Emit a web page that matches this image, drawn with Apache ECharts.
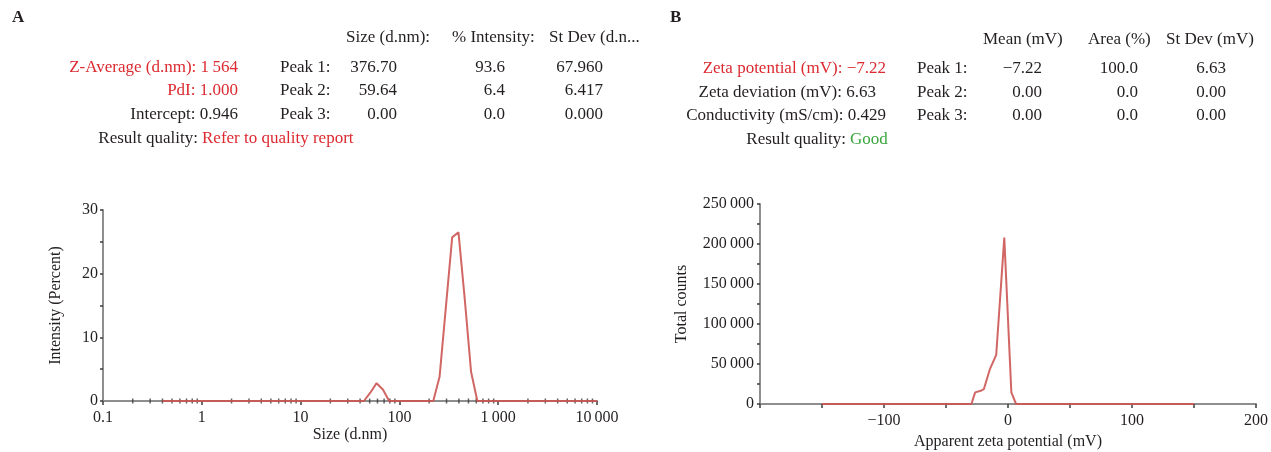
<!DOCTYPE html>
<html>
<head>
<meta charset="utf-8">
<script src="https://cdn.jsdelivr.net/npm/echarts@6/dist/echarts.min.js"></script>
<style>
html,body{margin:0;padding:0;background:#fff;}
#chart{width:1271px;height:452px;}
</style>
</head>
<body>
<div id="chart"></div>
<script>
// ---------- Panel A: size distribution by intensity ----------
const sizeBins = [0.4,0.4632,0.5365,0.6213,0.7195,0.8332,0.9649,1.117,1.294,1.499,1.736,2.010,2.328,2.696,3.122,3.615,4.187,4.849,5.615,6.503,7.531,8.721,10.10,11.70,13.54,15.69,18.17,21.04,24.36,28.21,32.67,37.84,43.82,50.75,58.77,68.06,78.82,91.28,105.7,122.4,141.8,164.2,190.1,220.2,255.0,295.3,342.0,396.1,458.7,531.2,615.1,712.4,825.0,955.4,1106,1281,1484,1718,1990,2305,2669,3091,3580,4145,4801,5560,6439,7456,8635,10000];
const intensity = [0,0,0,0,0,0,0,0,0,0,0,0,0,0,0,0,0,0,0,0,0,0,0,0,0,0,0,0,0,0,0,0,0,1.3,2.8,1.8,0,0,0,0,0,0,0,0,3.8,14.7,25.7,26.5,16.0,4.6,0,0,0,0,0,0,0,0,0,0,0,0,0,0,0,0,0,0,0,0];
const sizeTickLabels = ['0.1','1','10','100','1\u2009000','10\u2009000'];
const intensityTicks = [0,10,20,30];

// ---------- Panel B: zeta potential distribution ----------
const zetaMv = [-150,-29.5,-26.5,-22,-19.5,-14.5,-9.5,-3,2.7,6.5,150];
const zetaCounts = [0,0,14500,16500,18500,44000,61500,208000,14500,0,0];
const zetaTickLabels = {'-100':'\u2212100','0':'0','100':'100','200':'200'};
const countTickLabels = ['0','50\u2009000','100\u2009000','150\u2009000','200\u2009000','250\u2009000'];

// ---------- Header tables ----------
const headA = ['Size (d.nm):','% Intensity:','St Dev (d.n...'];
const leftA = [['Z-Average (d.nm): 1\u2009564', true],['PdI: 1.000', true],['Intercept: 0.946', false]];
const peakNames = ['Peak 1:','Peak 2:','Peak 3:'];
const peakSizeA = ['376.70','59.64','0.00'];
const peakIntA = ['93.6','6.4','0.0'];
const peakSdA = ['67.960','6.417','0.000'];
const qualityA = 'Refer to quality report';

const headB = ['Mean (mV)','Area (%)','St Dev (mV)'];
const leftB = [['Zeta potential (mV): \u22127.22', true],['Zeta deviation (mV): 6.63', false],['Conductivity (mS/cm): 0.429', false]];
const peakMeanB = ['\u22127.22','0.00','0.00'];
const peakAreaB = ['100.0','0.0','0.0'];
const peakSdB = ['6.63','0.00','0.00'];
const qualityB = 'Good';

// minor ticks of the log axis (2..9 x each decade)
const logMinor = [];
for (let e = -1; e < 4; e++) for (let m = 2; m <= 9; m++) logMinor.push([m * Math.pow(10, e), 0]);

const FONT = 'Liberation Serif';
const INK = '#231f20';
const RED = '#dc2a30';
const GREEN = '#3aa63f';
const AXIS = '#8e8e8e';
const TICK = '#3c3c3c';
const LINE = '#cc5753';

function txt(text, x, y, opt) {
  opt = opt || {};
  return {type:'text', silent:true, style:{text:text, x:x, y:y,
    font:(opt.bold?'bold ':'') + (opt.size||17) + 'px "' + FONT + '"',
    fill:opt.color||INK, align:opt.align||'left', verticalAlign:'middle'}};
}

const rowsY = [68, 91, 115];
const g = [];
g.push(txt('A', 12, 18, {bold:true, size:17}));
g.push(txt('B', 670, 18, {bold:true, size:17}));
// A header
[346, 452, 549].forEach((x,i)=>g.push(txt(headA[i], x, 38)));
leftA.forEach((r,i)=>g.push(txt(r[0], 238, rowsY[i], {align:'right', color:r[1]?RED:INK})));
peakNames.forEach((p,i)=>{
  g.push(txt(p, 280, rowsY[i]));
  g.push(txt(peakSizeA[i], 397, rowsY[i], {align:'right'}));
  g.push(txt(peakIntA[i], 505, rowsY[i], {align:'right'}));
  g.push(txt(peakSdA[i], 603, rowsY[i], {align:'right'}));
});
g.push(txt('Result quality:', 198, 139, {align:'right'}));
g.push(txt(qualityA, 202, 139, {color:RED}));
// B header
const rowsYB = [69, 93, 116];
[983, 1088, 1166].forEach((x,i)=>g.push(txt(headB[i], x, 40)));
const endsB = [886, 876, 886];
leftB.forEach((r,i)=>g.push(txt(r[0], endsB[i], rowsYB[i], {align:'right', color:r[1]?RED:INK})));
peakNames.forEach((p,i)=>{
  g.push(txt(p, 917, rowsYB[i]));
  g.push(txt(peakMeanB[i], 1042, rowsYB[i], {align:'right'}));
  g.push(txt(peakAreaB[i], 1138, rowsYB[i], {align:'right'}));
  g.push(txt(peakSdB[i], 1226, rowsYB[i], {align:'right'}));
});
g.push(txt('Result quality:', 846, 140, {align:'right'}));
g.push(txt(qualityB, 850, 140, {color:GREEN}));

const labelStyle = {color:INK, fontFamily:FONT, fontSize:16};
const nameStyle = {color:INK, fontFamily:FONT, fontSize:16};
const axisLine = {show:true, onZero:false, lineStyle:{color:AXIS, width:2}};
const axisTick = {show:true, length:3, lineStyle:{color:TICK, width:1.5}};
const minorTick = {show:true, splitNumber:2, length:3, lineStyle:{color:TICK, width:1.5}};

const chart = echarts.init(document.getElementById('chart'), null, {renderer:'canvas'});
chart.setOption({
  backgroundColor:'#fff',
  animation:false,
  graphic:g,
  grid:[
    {left:103, right:674, top:210, bottom:51},
    {left:760, right:12, top:204, bottom:48}
  ],
  xAxis:[
    {gridIndex:0, type:'log', logBase:10, min:0.1, max:10000,
     name:'Size (d.nm)', nameLocation:'middle', nameGap:26, nameTextStyle:nameStyle,
     axisLine:axisLine, axisTick:{show:true, length:4, lineStyle:{color:TICK, width:1.5}},
     splitLine:{show:false},
     axisLabel:Object.assign({margin:9, formatter:function(v){return sizeTickLabels[Math.round(Math.log10(v))+1];}}, labelStyle)},
    {gridIndex:1, type:'value', min:-200, max:200, interval:50,
     name:'Apparent zeta potential (mV)', nameLocation:'middle', nameGap:30, nameTextStyle:nameStyle,
     axisLine:axisLine, axisTick:{show:true, length:4, lineStyle:{color:TICK, width:1.5}},
     splitLine:{show:false},
     axisLabel:Object.assign({margin:9, formatter:function(v){const k=String(Math.round(v)); return zetaTickLabels[k]||'';}}, labelStyle)}
  ],
  yAxis:[
    {gridIndex:0, type:'value', min:0, max:30, interval:10,
     name:'Intensity (Percent)', nameLocation:'middle', nameGap:39, nameTextStyle:nameStyle,
     axisLine:axisLine, axisTick:axisTick, minorTick:minorTick, splitLine:{show:false}, minorSplitLine:{show:false},
     axisLabel:Object.assign({margin:5, formatter:function(v){return String(intensityTicks[Math.round(v/10)]);}}, labelStyle)},
    {gridIndex:1, type:'value', min:0, max:250000, interval:50000,
     name:'Total counts', nameLocation:'middle', nameGap:70, nameTextStyle:nameStyle,
     axisLine:axisLine, axisTick:axisTick, minorTick:minorTick, splitLine:{show:false}, minorSplitLine:{show:false},
     axisLabel:Object.assign({margin:6, formatter:function(v){return countTickLabels[Math.round(v/50000)];}}, labelStyle)}
  ],
  series:[
    {type:'scatter', xAxisIndex:0, yAxisIndex:0, data:logMinor, symbol:'rect', symbolSize:[1.5,5],
     itemStyle:{color:TICK}, silent:true, z:1},
    {type:'line', xAxisIndex:0, yAxisIndex:0, data:sizeBins.map((s,i)=>[s,intensity[i]]),
     showSymbol:false, lineStyle:{color:LINE, width:2, opacity:0.9}, silent:true, z:3},
    {type:'line', xAxisIndex:1, yAxisIndex:1, data:zetaMv.map((m,i)=>[m,zetaCounts[i]]),
     showSymbol:false, lineStyle:{color:LINE, width:2, opacity:0.9}, silent:true, z:3}
  ]
});
</script>
</body>
</html>
